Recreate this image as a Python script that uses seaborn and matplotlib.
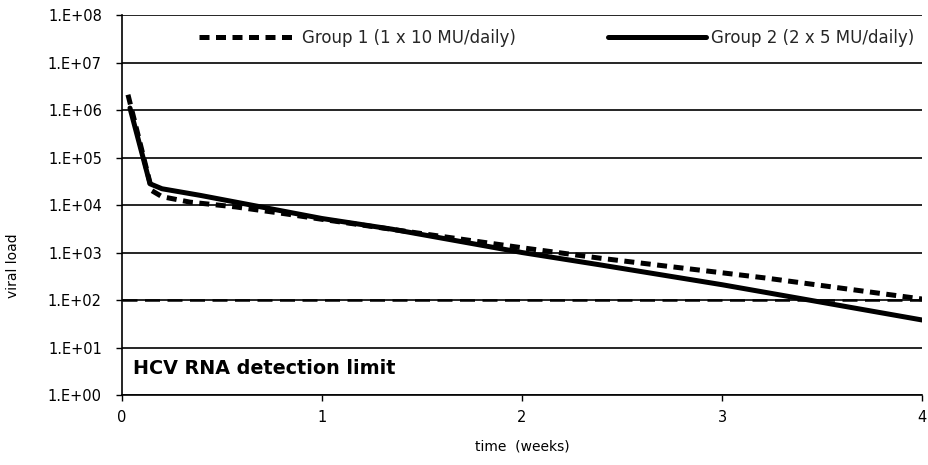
import math
import matplotlib
matplotlib.use("Agg")
import matplotlib.pyplot as plt
import seaborn as sns
import pandas as pd
from matplotlib.ticker import FixedLocator, FuncFormatter, NullLocator

# ---- data ----
g1_time = [0.03, 0.15, 0.20, 0.34, 0.57, 0.82, 1.00, 1.50, 2.00, 2.39, 3.22, 4.00]
g1_load = [2.1e6, 2.0e4, 1.5e4, 1.15e4, 9.1e3, 6.5e3, 5.0e3, 2.5e3, 1.26e3, 7.6e2, 2.9e2, 1.05e2]
g2_time = [0.04, 0.14, 0.20, 0.39, 1.00, 1.35, 2.00, 2.39, 3.00, 4.00]
g2_load = [1.1e6, 2.8e4, 2.2e4, 1.6e4, 5.2e3, 3.1e3, 1.0e3, 5.5e2, 2.1e2, 3.8e1]
g1_label = "Group 1 (1 x 10 MU/daily)"
g2_label = "Group 2 (2 x 5 MU/daily)"
detection_limit = 100
x_ticks = [0, 1, 2, 3, 4]
y_ticks = [1e0, 1e1, 1e2, 1e3, 1e4, 1e5, 1e6, 1e7, 1e8]

df1 = pd.DataFrame({"time": g1_time, "load": g1_load})
df2 = pd.DataFrame({"time": g2_time, "load": g2_load})

sns.set_theme(style="white")
plt.rcParams['font.family'] = ['DejaVu Sans']

fig = plt.figure(figsize=(9.29, 4.65), dpi=100)
ax = fig.add_axes([0.1313, 0.1505, 0.8612, 0.8172])

ax.set_yscale("log")
ax.set_ylim(1, 1e8)
ax.set_xlim(0, 4)

for y in y_ticks:
    ax.axhline(y, color="black", lw=1.2, zorder=1)
ax.axhline(detection_limit, color="black", lw=1.8, ls=(0, (6, 3)), zorder=1.5)

sns.lineplot(data=df1, x="time", y="load", ax=ax, color="black", lw=3.6,
             estimator=None, sort=False, label=g1_label, zorder=3)
ax.lines[-1].set_linestyle((0, (2.0, 1.3)))
ax.lines[-1].set_dash_capstyle("butt")
sns.lineplot(data=df2, x="time", y="load", ax=ax, color="black", lw=3.6,
             estimator=None, sort=False, label=g2_label, zorder=2)

ax.yaxis.set_major_locator(FixedLocator(y_ticks))
ax.yaxis.set_minor_locator(NullLocator())
ax.yaxis.set_major_formatter(FuncFormatter(lambda v, p: "1.E+%02d" % round(math.log10(v))))
ax.set_xticks(x_ticks)
ax.set_xticklabels([str(t) for t in x_ticks])

ax.tick_params(axis="both", which="major", labelsize=10.5, color="black",
               labelcolor="black", length=4, width=1, direction="out",
               left=True, bottom=True)
ax.tick_params(axis="x", pad=7)
ax.tick_params(axis="y", pad=10.5)

for s in ["top", "right"]:
    ax.spines[s].set_visible(False)
for s in ["left", "bottom"]:
    ax.spines[s].set_visible(True)
    ax.spines[s].set_color("black")
    ax.spines[s].set_linewidth(1.2)

ax.set_xlabel("time  (weeks)", fontsize=10, color="black", labelpad=10)
ax.set_ylabel("viral load", fontsize=10, color="black")
ax.yaxis.set_label_coords(-0.128, 0.34)

ax.text(0.014, 10 ** 0.55, "HCV RNA detection limit", fontsize=13.8, fontweight="bold",
        color="black", transform=ax.get_yaxis_transform(), va="center", ha="left")

leg = ax.legend(loc="center", bbox_to_anchor=(0.543, 0.94), ncol=2, frameon=False,
                fontsize=12, handlelength=5.9, handletextpad=0.3, columnspacing=5.5)

fig.savefig("out.png", dpi=100)
